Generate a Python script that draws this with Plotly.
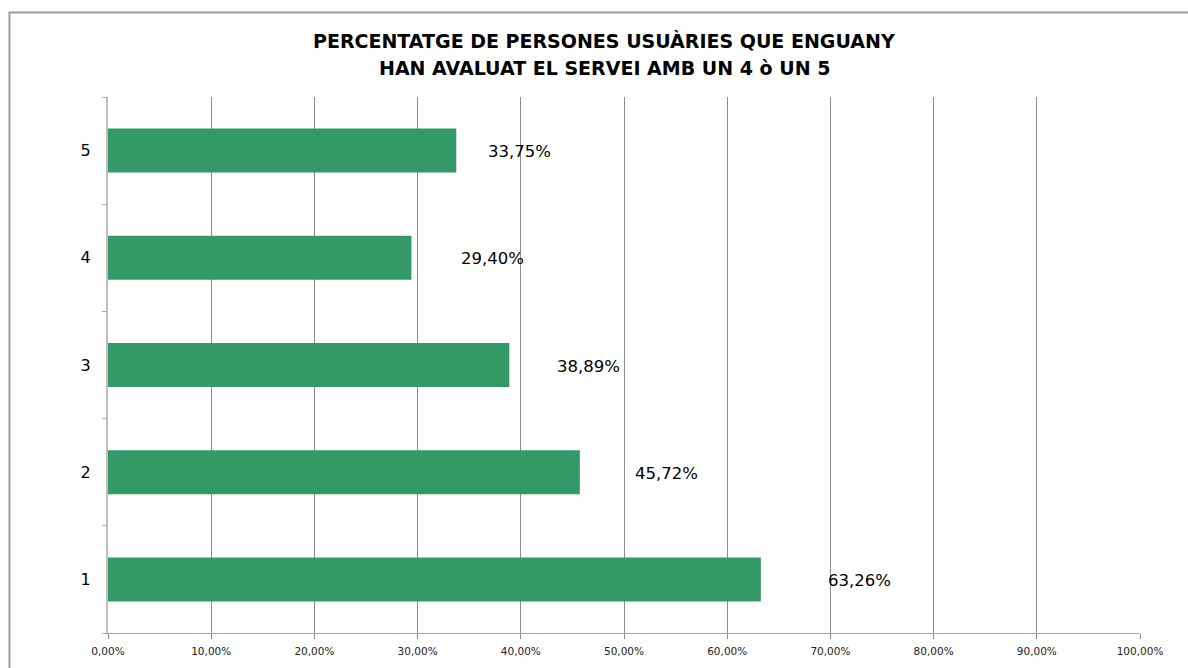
import plotly.graph_objects as go

categories = ["1", "2", "3", "4", "5"]
values = [63.26, 45.72, 38.89, 29.40, 33.75]
labels = ["63,26%", "45,72%", "38,89%", "29,40%", "33,75%"]
label_shift = [65, 53, 46, 48, 30]
tick_vals = [0, 10, 20, 30, 40, 50, 60, 70, 80, 90, 100]
tick_text = ["0,00%", "10,00%", "20,00%", "30,00%", "40,00%", "50,00%",
             "60,00%", "70,00%", "80,00%", "90,00%", "100,00%"]
title_lines = ["PERCENTATGE DE PERSONES USUÀRIES QUE ENGUANY",
               "HAN AVALUAT EL SERVEI AMB UN 4 ò UN 5"]

W, H = 1188, 668
L, R, T, B = 108, 48, 97, 35
pw, ph = W - L - R, H - T - B

fig = go.Figure()
fig.add_trace(go.Bar(
    x=values, y=categories, orientation="h",
    marker=dict(color="#339966", line=dict(width=0)),
    width=0.41, hoverinfo="skip",
))

for i, (v, t, s) in enumerate(zip(values, labels, label_shift)):
    fig.add_annotation(x=v, y=i, text=t, showarrow=False, xanchor="left", yanchor="middle",
                       xshift=s, yshift=-1,
                       font=dict(family="DejaVu Sans", size=16.5, color="#000000"))

def px(xp):
    return (xp - L) / pw

def py(yp):
    return (H - B - yp) / ph

for line, yc in zip(title_lines, [41.5, 68.5]):
    fig.add_annotation(xref="paper", yref="paper", x=px(604), y=py(yc),
                       text="<b>" + line + "</b>", showarrow=False,
                       xanchor="center", yanchor="middle",
                       font=dict(family="DejaVu Sans", size=19, color="#000000"))

fig.add_shape(type="rect", xref="paper", yref="paper",
              x0=px(9.5), x1=px(1200), y0=py(12.5), y1=py(700),
              line=dict(color="#9a9a9a", width=2), fillcolor="rgba(0,0,0,0)", layer="below")

fig.update_layout(
    width=W, height=H,
    margin=dict(l=L, r=R, t=T, b=B),
    paper_bgcolor="white", plot_bgcolor="white",
    showlegend=False,
    xaxis=dict(
        range=[0, 100], tickvals=tick_vals, ticktext=tick_text,
        showgrid=True, gridcolor="#8c8c8c", gridwidth=1,
        showline=True, linecolor="#a6a6a6", linewidth=1,
        ticks="outside", ticklen=5, tickcolor="#8c8c8c",
        tickfont=dict(family="DejaVu Sans", size=10.5, color="#222222"),
        ticklabelstandoff=3,
        zeroline=False, fixedrange=True,
    ),
    yaxis=dict(
        type="category", categoryorder="array", categoryarray=categories,
        range=[-0.5, 4.5],
        showgrid=False, showline=True, linecolor="#bfbfbf", linewidth=2,
        ticks="outside", ticklen=4, tickcolor="#a6a6a6", tickson="boundaries",
        tickfont=dict(family="DejaVu Sans", size=16, color="#000000"),
        ticklabelstandoff=12, zeroline=False, fixedrange=True,
    ),
)

fig.write_html("out.html")
